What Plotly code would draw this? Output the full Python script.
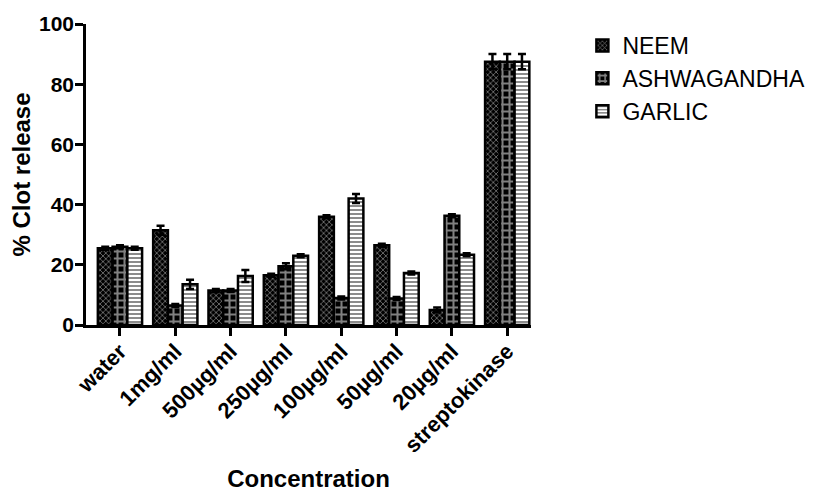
import plotly.graph_objects as go

categories = ["water", "1mg/ml", "500µg/ml", "250µg/ml", "100µg/ml", "50µg/ml", "20µg/ml", "streptokinase"]
neem = [25.5, 31.5, 11.5, 16.5, 36.0, 26.5, 5.0, 87.5]
neem_err = [0.5, 1.5, 0.5, 0.5, 0.5, 0.5, 0.8, 2.5]
ashwagandha = [26.0, 6.5, 11.5, 19.5, 9.0, 8.8, 36.3, 87.5]
ashwagandha_err = [0.5, 0.5, 0.5, 1.0, 0.5, 0.5, 0.5, 2.5]
garlic = [25.5, 13.5, 16.3, 23.0, 42.0, 17.3, 23.3, 87.5]
garlic_err = [0.5, 1.5, 2.0, 0.5, 1.5, 0.5, 0.5, 2.5]

series = [
    ("NEEM", neem, neem_err, dict(shape="x", fgcolor="white", bgcolor="black", size=4, solidity=0.35)),
    ("ASHWAGANDHA", ashwagandha, ashwagandha_err, dict(shape="+", fgcolor="white", bgcolor="black", size=7, solidity=0.5)),
    ("GARLIC", garlic, garlic_err, dict(shape="-", fgcolor="black", bgcolor="white", size=4, solidity=0.45)),
]

fig = go.Figure()
for name, vals, errs, pat in series:
    fig.add_trace(go.Bar(
        name=name, x=categories, y=vals,
        marker=dict(color="white", line=dict(color="black", width=2.5), pattern=pat),
        error_y=dict(type="data", array=errs, visible=True, color="black", thickness=2.5, width=4),
    ))

font_family = "Liberation Sans, Arial, sans-serif"
fig.update_layout(
    width=813, height=484,
    margin=dict(l=78, r=289, t=16, b=167),
    paper_bgcolor="white", plot_bgcolor="white",
    barmode="group", bargap=0.2, bargroupgap=0.0,
    font=dict(family=font_family, color="black"),
    legend=dict(x=1.113, y=1.0, xanchor="left", yanchor="top",
                font=dict(size=23, family=font_family, color="black")),
    xaxis=dict(
        range=[-0.614, 7.43], automargin=False,
        showline=True, linecolor="black", linewidth=2.5,
        ticks="outside", ticklen=8, tickwidth=2.5, tickcolor="black",
        tickangle=-45, ticklabelstandoff=-6,
        tickfont=dict(size=22, family=font_family, color="black", weight="bold"),
        title=dict(text="<b>Concentration</b>", font=dict(size=24, family=font_family, color="black"), standoff=26),
        showgrid=False,
    ),
    yaxis=dict(
        range=[0, 100], tickvals=[0, 20, 40, 60, 80, 100], automargin=False,
        showline=True, linecolor="black", linewidth=2.5,
        ticks="outside", ticklen=8, tickwidth=2.5, tickcolor="black",
        ticklabelstandoff=-3,
        tickfont=dict(size=21, family=font_family, color="black", weight="bold"),
        title=dict(text="<b>% Clot release</b>", font=dict(size=24, family=font_family, color="black"), standoff=12),
        showgrid=False, zeroline=False,
    ),
)

fig.write_html("out.html")
